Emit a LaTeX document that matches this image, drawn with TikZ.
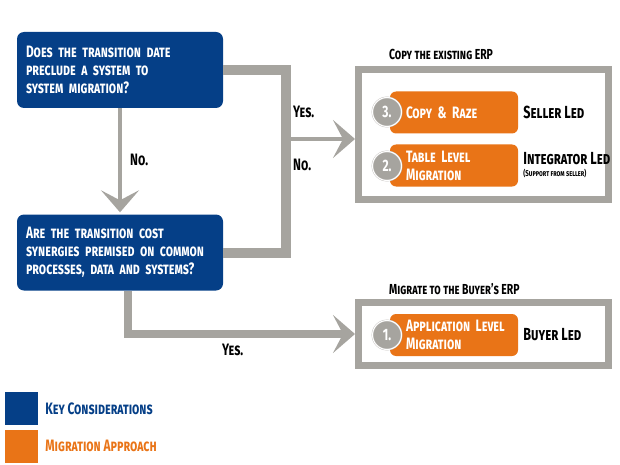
\documentclass[tikz,border=0pt]{standalone}
\usepackage{fontspec}
\setmainfont{Fira Sans}[FakeStretch=0.72]
\usetikzlibrary{arrows.meta,positioning}
\definecolor{keyblue}{HTML}{053F87}
\definecolor{apporange}{HTML}{E97417}
\definecolor{bargray}{HTML}{A6A49F}
\begin{document}
\begin{tikzpicture}[x=1pt,y=-1pt,
  font=\bfseries\scshape\fontsize{16.5}{18}\selectfont,
  >={Stealth[length=22pt,width=38pt,inset=10pt]},
  keybox/.style={fill=keyblue,rounded corners=7pt,text=white,align=left,
    minimum width=206pt,minimum height=76pt,text width=188pt,inner xsep=9pt},
  appbox/.style={fill=apporange,rounded corners=6pt,text=white,align=left,
    minimum width=128pt,minimum height=42pt,text width=96pt,inner xsep=16pt},
  numdot/.style={circle,fill=bargray,draw=bargray!70,double=white,
    double distance=1pt,minimum size=29pt,inner sep=0pt,text=white},
  frame/.style={draw=bargray,line width=7pt,fill=white,minimum width=250pt},
  bar/.style={draw=bargray,line width=10pt},
  thin/.style={draw=bargray,line width=4pt,->},
  note/.style={anchor=west,inner sep=0pt},
  lead/.style={note,font=\bfseries\scshape\fontsize{17.5}{18}\selectfont},
  title/.style={note,font=\bfseries\scshape\fontsize{14.5}{16}\selectfont}]
  \useasboundingbox (0,0) rectangle (620,465);

  % questions
  \node[keybox] (q1) at (120,70) {Does the transition date\\preclude a system to\\system migration?};
  \node[keybox] (q2) at (120,252.5) {Are the transition cost\\synergies premised on common\\processes, data and systems?};

  % outcome frames
  \node[frame,minimum height=130pt] (f1) at (483.5,134.5) {};
  \node[frame,minimum height=63pt] (f2) at (483.5,334) {};
  \node[title] (t1) at (389,54) {Copy the existing ERP};
  \node[title] (t2) at (389,289) {Migrate to the Buyer's ERP};

  % approaches
  \node[appbox] (copy) at (454,112.5) {Copy \& Raze};
  \node[appbox] (table) at (454,165.5) {Table Level\\Migration};
  \node[appbox] (app) at (454,335) {Application~Level\\Migration};
  \node[numdot] (c3) at (387,112) {3.};
  \node[numdot] (c2) at (387,166) {2.};
  \node[numdot] (c1) at (387,335) {1.};
  \node[lead,right=5pt of copy] (l3) {Seller Led};
  \node[lead,right=5pt of table,align=left] (l2) {Integrator Led\\[-6pt]{\fontsize{8.5}{9}\selectfont(Support from seller)}};
  \node[lead,right=5pt of app] (l1) {Buyer Led};

  % connectors
  \coordinate (j) at (285.5,139);
  \draw[bar] (q1.east) -| (j) |- (q2.east);
  \draw[thin] (j) -- (j -| f1.west);
  \draw[thin,shorten >=2pt] (q1.south) -- (q2.north);
  \draw[bar,line width=8pt,->] ([xshift=8pt]q2.south) |- (f2.west);
  \node[note] (y1) at (293,112) {Yes.};
  \node[note] (n1) at (293,165) {No.};
  \node[note] (n2) at (130,160) {No.};
  \node[note] (y2) at (222,350) {Yes.};

  % legend
  \node[fill=keyblue,minimum size=33pt,inner sep=0pt] (k1) at (21.5,408.5) {};
  \node[fill=apporange,minimum size=33pt,inner sep=0pt] (k2) at (21.5,446) {};
  \node[note,text=keyblue,right=7pt of k1] {Key Considerations};
  \node[note,text=apporange,right=7pt of k2] {Migration Approach};
\end{tikzpicture}
\end{document}
